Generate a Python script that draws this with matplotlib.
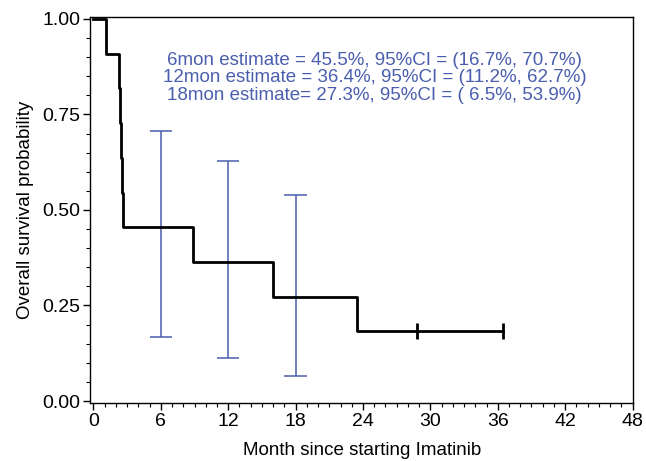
import numpy as np
import matplotlib.pyplot as plt
from matplotlib.ticker import MultipleLocator

plt.rcParams['font.family'] = ['Liberation Sans', 'DejaVu Sans']

# Kaplan-Meier curve
km_time = [0, 1.1, 2.3, 2.35, 2.45, 2.55, 2.65, 8.85, 15.95, 23.45, 36.5]
km_surv = [1.0, 0.909, 0.818, 0.727, 0.636, 0.545, 0.455, 0.364, 0.273, 0.182, 0.182]
censor_time = [28.85, 36.5]
censor_surv = [0.182, 0.182]

# point estimates with 95% CI
ci_month = [6, 12, 18]
ci_lower = [0.167, 0.112, 0.065]
ci_upper = [0.707, 0.627, 0.539]

notes = ["6mon estimate = 45.5%, 95%CI = (16.7%, 70.7%)",
         "12mon estimate = 36.4%, 95%CI = (11.2%, 62.7%)",
         "18mon estimate= 27.3%, 95%CI = ( 6.5%, 53.9%)"]

blue = '#4a5eae'

fig = plt.figure(figsize=(6.46, 4.61), dpi=100)
ax = fig.add_axes([0.140, 0.126, 0.840, 0.837])

ax.step(km_time, km_surv, where='post', color='black', lw=2.0, zorder=3)
ax.plot(censor_time, censor_surv, ls='none', marker='|', ms=11, mew=2.0, color='black', zorder=3)

for m, lo, hi in zip(ci_month, ci_lower, ci_upper):
    ax.vlines(m, lo, hi, color=blue, lw=1.1, zorder=2)
    ax.hlines([lo, hi], m - 1, m + 1, color=blue, lw=1.1, zorder=2)

ax.text(0.524, 0.91, "\n".join(notes), transform=ax.transAxes, ha='center', va='top',
        color=blue, fontsize=13.5, linespacing=1.05)

ax.set_xlim(-0.27, 48.05)
ax.set_ylim(-0.005, 1.005)
ax.xaxis.set_major_locator(MultipleLocator(6))
ax.xaxis.set_minor_locator(MultipleLocator(1))
ax.yaxis.set_major_locator(MultipleLocator(0.25))
ax.yaxis.set_minor_locator(MultipleLocator(0.05))
ax.yaxis.set_major_formatter(plt.FormatStrFormatter('%.2f'))
ax.tick_params(which='major', direction='out', length=5, width=1, labelsize=14, pad=2)
ax.tick_params(which='minor', direction='out', length=3, width=0.8)
for s in ax.spines.values():
    s.set_linewidth(1.0)

ax.set_xlabel("Month since starting Imatinib", fontsize=13.5, labelpad=9)
ax.set_ylabel("Overall survival probability", fontsize=13.5, labelpad=6)

fig.savefig("out.png", dpi=100)
